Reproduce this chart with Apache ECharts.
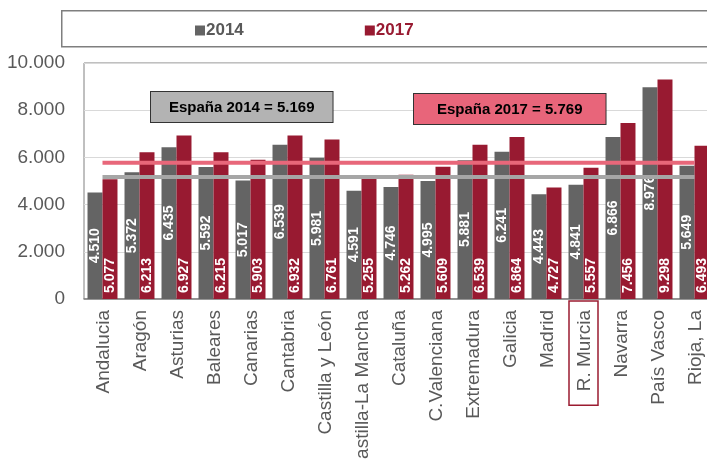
<!DOCTYPE html>
<html lang="es">
<head>
  <meta charset="UTF-8">
  <title>Gasto por región</title>
  <script src="https://cdn.jsdelivr.net/npm/echarts@6/dist/echarts.min.js"></script>
  <style>
    html, body { margin: 0; padding: 0; background: #fff; }
  </style>
</head>
<body>
<div id="main" style="width:707px;height:459px;"></div>
<script>
  // comunidades autónomas
  const regiones = ['Andalucia', 'Aragón', 'Asturias', 'Baleares', 'Canarias', 'Cantabria', 'Castilla y León',
    'Castilla-La Mancha', 'Cataluña', 'C.Valenciana', 'Extremadura', 'Galicia', 'Madrid', 'R. Murcia',
    'Navarra', 'País Vasco', 'Rioja, La'];
  const valores2014 = [4510, 5372, 6435, 5592, 5017, 6539, 5981, 4591, 4746, 4995, 5881, 6241, 4443, 4841, 6866, 8976, 5649];
  const valores2017 = [5077, 6213, 6927, 6215, 5903, 6932, 6761, 5255, 5262, 5609, 6539, 6864, 4727, 5557, 7456, 9298, 6493];
  const espana2014 = 5169;
  const espana2017 = 5769;
  const ticksY = [0, 2000, 4000, 6000, 8000, 10000];
  const destacada = 'R. Murcia';

  const GRIS = '#646464';
  const ROJO = '#981a31';
  const FUENTE = '"Liberation Sans", Arial, sans-serif';

  //separador de miles con punto
  const fmt = (n) => String(n).replace(/\B(?=(\d{3})+(?!\d))/g, '.');

  //línea de referencia España (de la primera a la última comunidad)
  const refSerie = (nombre, valor, color) => ({
    name: nombre,
    type: 'line',
    silent: true,
    symbol: 'none',
    z: 5,
    lineStyle: {color: color, width: 4},
    data: regiones.map(() => valor)
  });

  const chart = echarts.init(document.getElementById('main'));
  chart.setOption({
    animation: false,
    textStyle: {fontFamily: FUENTE},
    legend: {
      top: 17,
      left: 190,
      itemGap: 121,
      itemWidth: 10,
      itemHeight: 10,
      icon: 'rect',
      textStyle: {fontSize: 17, fontWeight: 'bold', padding: [0, 0, 0, -4]},
      data: [
        {name: '2014', textStyle: {color: '#595959'}},
        {name: '2017', textStyle: {color: ROJO}}
      ]
    },
    graphic: [
      {
        type: 'rect', left: 61, top: 10, z: -1,
        shape: {width: 680, height: 36},
        style: {fill: '#fff', stroke: '#7f7f7f', lineWidth: 1.5}
      },
      {
        type: 'text', left: 150, top: 91, z: 10,
        style: {
          text: 'España 2014 = ' + fmt(espana2014),
          font: 'bold 15px ' + FUENTE, fill: '#000',
          backgroundColor: '#b3b3b3', borderColor: '#333', borderWidth: 1,
          padding: [8, 18, 7, 18]
        }
      },
      {
        type: 'text', left: 413, top: 93, z: 10,
        style: {
          text: 'España 2017 = ' + fmt(espana2017),
          font: 'bold 15px ' + FUENTE, fill: '#000',
          backgroundColor: '#e8657a', borderColor: '#333', borderWidth: 1,
          padding: [8, 23, 7, 23]
        }
      }
    ],
    grid: {
      left: 84, top: 63, width: 629, height: 236,
      outerBoundsMode: 'none',
      containLabel: false,
      show: true, borderColor: '#808080', borderWidth: 1
    },
    xAxis: {
      type: 'category',
      data: regiones,
      axisTick: {show: false},
      axisLine: {lineStyle: {color: '#808080', width: 1.5}},
      axisLabel: {
        interval: 0, rotate: 90, margin: 2,
        formatter: (v) => v === destacada ? '{hl|' + v + '}' : '{n|' + v + '}',
        rich: {
          n: {fontSize: 19, color: '#595959', padding: [6, 9, 4, 14]},
          hl: {
            fontSize: 19, color: '#595959',
            borderColor: '#9b1b30', borderWidth: 1.5,
            padding: [6, 9, 4, 14]
          }
        }
      }
    },
    yAxis: {
      type: 'value',
      min: ticksY[0],
      max: ticksY[ticksY.length - 1],
      interval: 2000,
      axisLine: {show: false},
      axisTick: {show: false},
      splitLine: {lineStyle: {color: '#d9d9d9', width: 1}},
      axisLabel: {fontSize: 19, color: '#595959', margin: 19, formatter: (v) => fmt(v)}
    },
    series: [
      {
        name: '2014',
        type: 'bar',
        data: valores2014,
        barGap: '0%',
        barCategoryGap: '19%',
        itemStyle: {color: GRIS},
        label: {
          show: true, position: 'inside', rotate: 90,
          color: '#fff', fontSize: 14, fontWeight: 'bold',
          formatter: (p) => fmt(p.value)
        }
      },
      {
        name: '2017',
        type: 'bar',
        data: valores2017,
        itemStyle: {color: ROJO},
        label: {
          show: true, position: 'insideBottom', rotate: 90, align: 'left', verticalAlign: 'middle',
          distance: 6, color: '#fff', fontSize: 14, fontWeight: 'bold',
          formatter: (p) => fmt(p.value)
        }
      },
      refSerie('España 2014', espana2014, '#a6a6a6'),
      refSerie('España 2017', espana2017, '#e8677a')
    ]
  });
</script>
</body>
</html>
